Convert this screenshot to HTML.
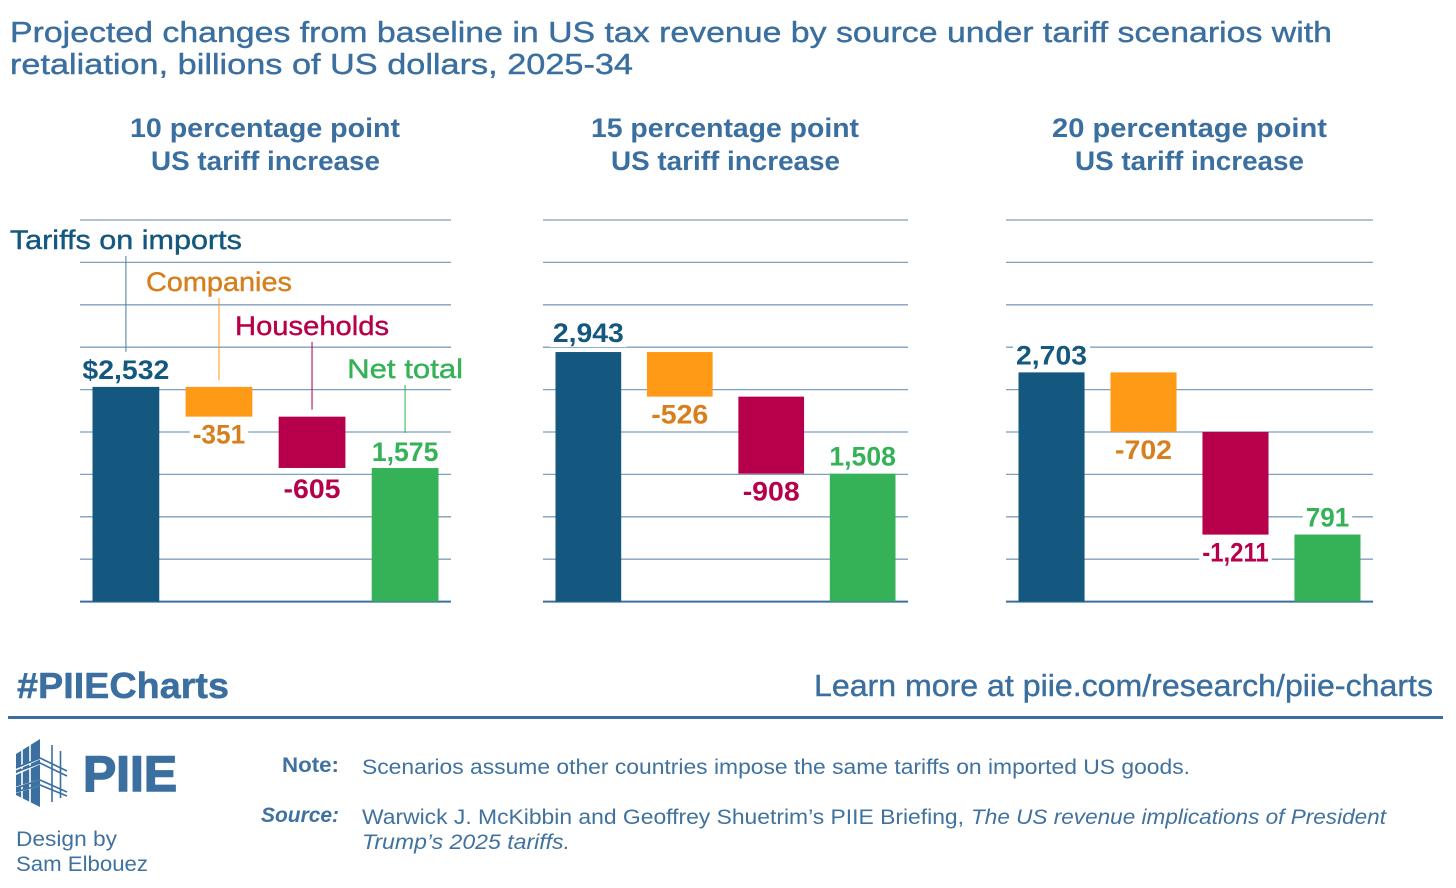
<!DOCTYPE html>
<html lang="en">
<head>
<meta charset="utf-8">
<title>Projected changes in US tax revenue by source under tariff scenarios</title>
<style>
html,body{margin:0;padding:0;background:#fff;width:1456px;height:888px;overflow:hidden}
svg{display:block;font-family:"Liberation Sans",sans-serif}
.t{fill:#3a6f9f}
.title{font-size:29px;stroke:#3a6f9f;stroke-width:.4px}
.sub{font-size:27px;font-weight:bold}
.foot{font-size:21px;fill:#3f729f}
.design{font-size:21.5px;fill:#3f729f}
.legend{font-size:26.5px;stroke-width:.4px}
.val{font-size:27px;font-weight:bold}
</style>
</head>
<body>
<svg id="chart" xmlns="http://www.w3.org/2000/svg" width="1456" height="888" viewBox="0 0 1456 888">
  <text class="t title" x="10" y="42" textLength="1322" lengthAdjust="spacingAndGlyphs">Projected changes from baseline in US tax revenue by source under tariff scenarios with</text>
  <text class="t title" x="10" y="74" textLength="623" lengthAdjust="spacingAndGlyphs">retaliation, billions of US dollars, 2025-34</text>

  <text class="t sub" x="130" y="137" textLength="270" lengthAdjust="spacingAndGlyphs">10 percentage point</text>
  <text class="t sub" x="151" y="170" textLength="229" lengthAdjust="spacingAndGlyphs">US tariff increase</text>
  <text class="t sub" x="591" y="137" textLength="268" lengthAdjust="spacingAndGlyphs">15 percentage point</text>
  <text class="t sub" x="611" y="170" textLength="229" lengthAdjust="spacingAndGlyphs">US tariff increase</text>
  <text class="t sub" x="1052" y="137" textLength="275" lengthAdjust="spacingAndGlyphs">20 percentage point</text>
  <text class="t sub" x="1075" y="170" textLength="229" lengthAdjust="spacingAndGlyphs">US tariff increase</text>

  <g id="plots"></g>

  <text x="17" y="698" font-size="36" font-weight="bold" fill="#3a6f9f" stroke="#3a6f9f" stroke-width=".5" textLength="212" lengthAdjust="spacingAndGlyphs">#PIIECharts</text>
  <text x="814" y="696" font-size="30.5" fill="#3a6f9f" stroke="#3a6f9f" stroke-width=".4" textLength="619" lengthAdjust="spacingAndGlyphs">Learn more at piie.com/research/piie-charts</text>
  <rect x="8" y="716" width="1435" height="3" fill="#3a6f9f"/>

  <g fill="#3a6f9f">
    <polygon points="16,754 40,739 40,807 16,795"/>
    <g stroke="#fff" fill="none">
      <line x1="22" y1="745" x2="22" y2="805" stroke-width="1.6"/>
      <line x1="30" y1="740" x2="30" y2="808" stroke-width="1.6"/>
      <path d="M14,770.5 L40,758.5 M14,775 L40,763.5 M14,788 L40,780 M14,793 L40,785" stroke-width="1.7"/>
    </g>
    <g stroke="#3a6f9f" fill="none" stroke-width="1.6">
      <line x1="52" y1="745" x2="52" y2="802"/>
      <line x1="60.5" y1="751" x2="60.5" y2="798"/>
      <path d="M16,768 L40,758 L67,771 M16,772 L40,763 L67,776 M16,788 L40,780 L67,792 M16,792 L40,785 L67,796"/>
    </g>
    <text x="83" y="791" font-size="50" font-weight="bold" stroke="#3a6f9f" stroke-width="1.5" textLength="94" lengthAdjust="spacingAndGlyphs">PIIE</text>
  </g>
  <text class="design" x="16" y="846" textLength="101" lengthAdjust="spacingAndGlyphs">Design by</text>
  <text class="design" x="16" y="871" textLength="132" lengthAdjust="spacingAndGlyphs">Sam Elbouez</text>

  <text class="foot" x="282" y="772" font-weight="bold" textLength="57" lengthAdjust="spacingAndGlyphs">Note:</text>
  <text class="foot" x="362" y="774" textLength="828" lengthAdjust="spacingAndGlyphs">Scenarios assume other countries impose the same tariffs on imported US goods.</text>
  <text class="foot" x="261" y="822" font-weight="bold" font-style="italic" textLength="78" lengthAdjust="spacingAndGlyphs">Source:</text>
  <text class="foot" x="362" y="824" textLength="602" lengthAdjust="spacingAndGlyphs">Warwick J. McKibbin and Geoffrey Shuetrim’s PIIE Briefing,</text>
  <text class="foot" x="971" y="824" font-style="italic" textLength="415" lengthAdjust="spacingAndGlyphs">The US revenue implications of President</text>
  <text class="foot" x="362" y="849" font-style="italic" textLength="208" lengthAdjust="spacingAndGlyphs">Trump’s 2025 tariffs.</text>
</svg>
<script>
// Data (billions of US dollars)
const scenarios = ["10 percentage point", "15 percentage point", "20 percentage point"];
const seriesNames = ["Tariffs on imports", "Companies", "Households", "Net total"];
const tariffs = [2532, 2943, 2703];
const companies = [-351, -526, -702];
const households = [-605, -908, -1211];
const netTotal = [1575, 1508, 791];
const gridTicks = [0, 500, 1000, 1500, 2000, 2500, 3000, 3500, 4000, 4500];

// Layout
const NS = "http://www.w3.org/2000/svg";
const plots = document.getElementById("plots");
const yZero = 601.6, yTop = 220, yMaxValue = 4500;
const panelLefts = [80, 543, 1006];
const panelRights = [451, 908, 1373];
const legendBaselines = [249, 291, 335, 378];
const legendWidths = [232, 146, 154, 116];
const labelNudges = [[0, 0, 3, 1], [-2, 0, 0, 0], [0, 0, 0, 0]];
const seriesColors = ["#14587f", "#ff9a16", "#b7004b", "#35b257"];
const textColors = ["#14587f", "#d67f1c", "#b7004b", "#35b257"];

function yScale(v) { return yZero - v / yMaxValue * (yZero - yTop); }
function barWidth(p) { return (panelRights[p] - panelLefts[p]) * 0.18; }
function xBand(p, i) {
  const inner = panelRights[p] - panelLefts[p] - 25;
  return panelLefts[p] + 12.5 + i * (inner - barWidth(p)) / 3;
}
function xCenter(p, i) { return xBand(p, i) + barWidth(p) / 2; }
function fmt(v) { return (v < 0 ? "-" : "") + Math.abs(v).toLocaleString("en-US"); }
// Width the wide reference typeface gives a label: narrow "1", comma and hyphen.
function labelWidth(s) {
  let w = 0;
  for (const c of s) {
    w += c === "1" ? 11.5 : c === "," ? 7 : c === "-" ? 9 : 16;
  }
  return w;
}
function make(tag, attrs, parent) {
  const el = document.createElementNS(NS, tag);
  for (const k in attrs) el.setAttribute(k, attrs[k]);
  parent.appendChild(el);
  return el;
}

scenarios.forEach(function (scenario, p) {
  const panel = make("g", {}, plots);
  
  

  gridTicks.forEach(function (tick) {
    const y = yScale(tick);
    const line = make("line", {
      x1: panelLefts[p], x2: panelRights[p], y1: y, y2: y,
      stroke: tick === 0 ? "#3a6f9f" : "#7f9fbd",
      "stroke-width": tick === 0 ? 2 : 1.3
    }, panel);
    
    
  });

  const start = tariffs[p];
  const afterCompanies = start + companies[p];
  const afterHouseholds = afterCompanies + households[p];
  const spans = [
    [0, start], [afterCompanies, start], [afterHouseholds, afterCompanies], [0, netTotal[p]]
  ];
  const values = [start, companies[p], households[p], netTotal[p]];

  values.forEach(function (v, i) {
    const isTotal = v >= 0;
    const baseline = (isTotal ? yScale(spans[i][1]) - 8 : yScale(spans[i][0]) + 27) + labelNudges[p][i];
    const prefix = (p === 0 && i === 0) ? "$" : "";
    const str = prefix + fmt(v);
    const w = labelWidth(str);
    const halo = make("rect", { fill: "#fff" }, panel);
    
    
    const label = make("text", {
      class: "val", x: xCenter(p, i) - w / 2, y: baseline, fill: textColors[i],
      textLength: w, lengthAdjust: "spacingAndGlyphs"
    }, panel);
    
    
    label.textContent = str;
    halo.setAttribute("x", xCenter(p, i) - w / 2 - 3);
    halo.setAttribute("y", baseline - 21);
    halo.setAttribute("width", w + 6);
    halo.setAttribute("height", 26);
  });

  spans.forEach(function (span, i) {
    const top = yScale(span[1]);
    const bar = make("rect", {
      x: xBand(p, i), y: top, width: barWidth(p), height: yScale(span[0]) - top, fill: seriesColors[i]
    }, panel);
    
    
  });

  if (p === 0) {
    seriesNames.forEach(function (name, i) {
      const cx = xCenter(p, i);
      const t = make("text", {
        class: "legend", x: cx - legendWidths[i] / 2, y: legendBaselines[i],
        fill: textColors[i], stroke: textColors[i],
        textLength: legendWidths[i], lengthAdjust: "spacingAndGlyphs"
      }, panel);
      
      
      t.textContent = name;
      const gap = values[i] >= 0 ? 35 : 7;
      const leader = make("line", {
        x1: cx, x2: cx, y1: legendBaselines[i] + 7, y2: yScale(spans[i][1]) - gap,
        stroke: seriesColors[i] === "#14587f" ? "#4f7f9f" : seriesColors[i], "stroke-width": 1.2,
        opacity: 0.85
      }, panel);
      
      
    });
  }
});
</script>
</body>
</html>
